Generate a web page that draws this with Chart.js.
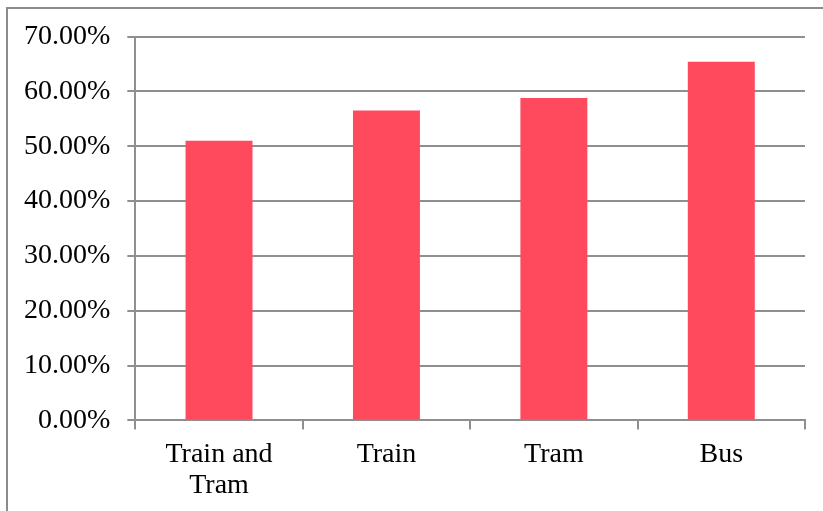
<!DOCTYPE html>
<html>
<head>
<meta charset="utf-8">
<script src="https://cdn.jsdelivr.net/npm/chart.js@4/dist/chart.umd.min.js"></script>
<style>
  html, body { margin: 0; padding: 0; background: #fff; }
  #wrap { position: relative; width: 823px; height: 511px; overflow: hidden; }
  #frame { position: absolute; left: 6px; top: 7px; width: 840px; height: 530px;
           border: 2px solid #8c8c8c; box-sizing: border-box; pointer-events: none; }
</style>
</head>
<body>
<div id="wrap">
  <canvas id="grafico" width="823" height="511"></canvas>
  <div id="frame"></div>
</div>
<script>
const categorias = [["Train and", "Tram"], "Train", "Tram", "Bus"];
const percentuais = [51.0, 56.5, 58.8, 65.4];
const eixoY = { min: 0, max: 70, passo: 10 };

const fonte = { family: "'Liberation Serif', 'Times New Roman', serif", size: 28, lineHeight: 1.1 };
const cinza = "#8f8f8f";

new Chart(document.getElementById("grafico"), {
  type: "bar",
  data: {
    labels: categorias,
    datasets: [{
      data: percentuais,
      backgroundColor: "#FF4A5E",
      borderWidth: 0,
      barPercentage: 0.4,
      categoryPercentage: 1.0,
    }],
  },
  options: {
    responsive: false,
    animation: false,
    layout: { padding: { left: 7, right: 18, top: 36.5, bottom: 0 } },
    plugins: { legend: { display: false }, tooltip: { enabled: false } },
    scales: {
      x: {
        grid: { display: true, drawOnChartArea: false, color: cinza, lineWidth: 2, tickLength: 9, offset: true },
        border: { color: cinza, width: 2 },
        ticks: { color: "#000", font: fonte, padding: 10, maxRotation: 0, autoSkip: false },
      },
      y: {
        min: eixoY.min,
        max: eixoY.max,
        grid: { color: cinza, lineWidth: 2, tickLength: 8 },
        border: { color: cinza, width: 2 },
        ticks: {
          stepSize: eixoY.passo,
          color: "#000",
          font: fonte,
          padding: 17,
          callback: (v) => v.toFixed(2) + "%",
        },
      },
    },
  },
});
</script>
</body>
</html>
